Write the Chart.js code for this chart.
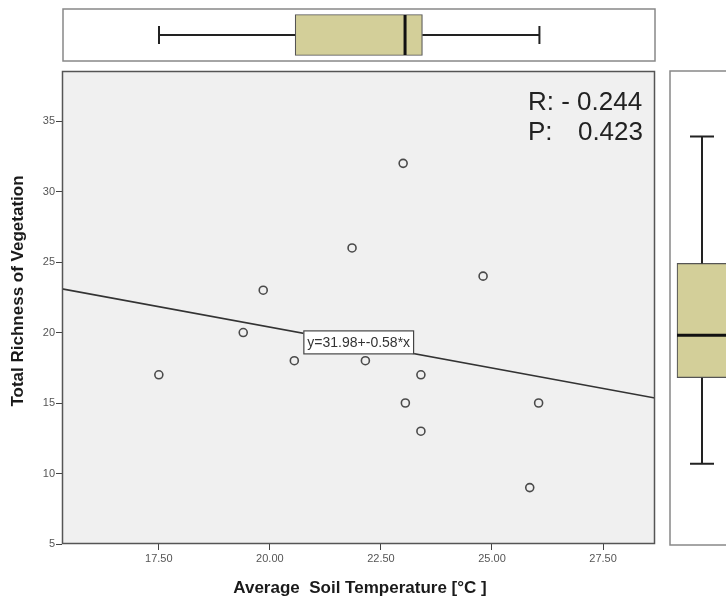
<!DOCTYPE html>
<html>
<head>
<meta charset="utf-8">
<script src="https://cdn.jsdelivr.net/npm/chart.js@4.4.0/dist/chart.umd.min.js"></script>
<style>
html, body { margin: 0; padding: 0; overflow: hidden; background: #fff; width: 726px; height: 604px; }
canvas { position: absolute; }
#main { left: 0; top: 0; }
#topBox { left: 62px; top: 8px; }
#rightBox { left: 669px; top: 70px; }
</style>
</head>
<body>
<canvas id="main" width="726" height="604"></canvas>
<canvas id="topBox" width="594" height="54"></canvas>
<canvas id="rightBox" width="66" height="476"></canvas>
<script>
// values
const soilTemp = [17.5, 19.4, 19.85, 20.55, 21.85, 22.15, 23.0, 23.05, 23.4, 23.4, 24.8, 25.85, 26.05];
const richness = [17, 20, 23, 18, 26, 18, 32, 15, 17, 13, 24, 9, 15];
const fitX = [15.32, 28.67];
const fitY = [23.1, 15.35];
const xTicks = [17.5, 20, 22.5, 25, 27.5];
const yTicks = [5, 10, 15, 20, 25, 30, 35];
// box plots: [min, q1, median, q3, max]
const tempBox = [17.5, 20.56, 23.03, 23.42, 26.05];
const richBox = [10.7, 16.8, 19.8, 24.9, 33.9];
const fitLabel = 'y=31.98+-0.58*x';
const statR = 'R: - 0.244';
const statP = '0.423';

const X_MIN = 15.32, X_MAX = 28.67, Y_MIN = 5, Y_MAX = 38.55;
const BOX_FILL = '#d3cf99';

// 1. main scatter
const mainPlugin = {
    id: 'mainDeco',
    beforeDatasetsDraw(chart) {
        const { ctx, chartArea: a } = chart;
        ctx.save();
        ctx.fillStyle = '#f0f0f0';
        ctx.fillRect(a.left, a.top, a.right - a.left, a.bottom - a.top);
        ctx.restore();
    },
    afterDatasetsDraw(chart) {
        const { ctx, chartArea: a, scales } = chart;
        ctx.save();
        // equation label
        ctx.font = '14px Arial';
        const w = ctx.measureText(fitLabel).width + 8;
        const cx = scales.x.getPixelForValue(22.0);
        const cy = scales.y.getPixelForValue(19.3);
        ctx.fillStyle = '#fff';
        ctx.fillRect(cx - w / 2, cy - 12, w, 24);
        ctx.strokeStyle = '#444';
        ctx.lineWidth = 1.2;
        ctx.strokeRect(cx - w / 2 + 0.5, cy - 11.5, w - 1, 23);
        ctx.fillStyle = '#333';
        ctx.textBaseline = 'middle';
        ctx.textAlign = 'center';
        ctx.fillText(fitLabel, cx, cy + 1);
        // frame
        ctx.strokeStyle = '#555';
        ctx.lineWidth = 1.5;
        ctx.strokeRect(a.left + 0.5, a.top + 0.5, a.right - a.left - 1, a.bottom - a.top - 1);
        // stats
        ctx.fillStyle = '#222';
        ctx.font = '26px Arial';
        ctx.textBaseline = 'alphabetic';
        ctx.textAlign = 'left';
        ctx.fillText(statR, 528, 110);
        ctx.fillText('P:', 528, 140);
        ctx.textAlign = 'right';
        ctx.fillText(statP, 643, 140);
        // axis titles
        ctx.fillStyle = '#1a1a1a';
        ctx.textAlign = 'center';
        ctx.textBaseline = 'middle';
        ctx.font = 'bold 17px Arial';
        ctx.fillText('Average  Soil Temperature [°C ]', 360, 588);
        ctx.translate(18, 291);
        ctx.rotate(-Math.PI / 2);
        ctx.font = 'bold 17px Arial';
        ctx.fillText('Total Richness of Vegetation', 0, 0);
        ctx.restore();
    }
};

new Chart(document.getElementById('main'), {
    type: 'scatter',
    data: {
        datasets: [{
            data: fitX.map((x, i) => ({ x: x, y: fitY[i] })),
            showLine: true,
            borderColor: '#333',
            borderWidth: 1.6,
            pointRadius: 0
        }, {
            data: soilTemp.map((x, i) => ({ x: x, y: richness[i] })),
            pointRadius: 4,
            pointBorderWidth: 1.6,
            pointBorderColor: '#4a4a4a',
            pointBackgroundColor: 'rgba(0,0,0,0)'
        }]
    },
    options: {
        responsive: false,
        animation: false,
        layout: { padding: { top: 71, right: 71, left: 0, bottom: 0 } },
        plugins: { legend: { display: false }, tooltip: { enabled: false } },
        scales: {
            x: {
                type: 'linear', min: X_MIN, max: X_MAX,
                afterFit(s) { s.height = 60; },
                afterBuildTicks(s) { s.ticks = xTicks.map(v => ({ value: v })); },
                ticks: { font: { size: 11, family: 'Arial' }, color: '#555', padding: 2, maxRotation: 0, autoSkip: false,
                         callback: v => Number(v).toFixed(2) },
                grid: { drawOnChartArea: false, tickLength: 6, color: '#444' },
                border: { display: false }
            },
            y: {
                type: 'linear', min: Y_MIN, max: Y_MAX,
                afterFit(s) { s.width = 62; },
                afterBuildTicks(s) { s.ticks = yTicks.map(v => ({ value: v })); },
                ticks: { font: { size: 11, family: 'Arial' }, color: '#555', padding: 1, autoSkip: false },
                grid: { drawOnChartArea: false, tickLength: 6, color: '#444' },
                border: { display: false }
            }
        }
    },
    plugins: [mainPlugin]
});

// box plot whiskers / median / frame
function boxPlugin(horizontal) {
    return {
        id: 'boxDeco',
        afterDatasetsDraw(chart) {
            const { ctx, scales } = chart;
            const b = horizontal ? tempBox : richBox;
            const val = horizontal ? scales.x : scales.y;
            const idx = horizontal ? scales.y : scales.x;
            const c = idx.getPixelForValue(0);
            const p = b.map(v => val.getPixelForValue(v));
            ctx.save();
            ctx.strokeStyle = '#222';
            ctx.lineWidth = 2;
            ctx.beginPath();
            if (horizontal) {
                ctx.moveTo(p[0], c); ctx.lineTo(p[1], c);
                ctx.moveTo(p[3], c); ctx.lineTo(p[4], c);
                ctx.moveTo(p[0], c - 9); ctx.lineTo(p[0], c + 9);
                ctx.moveTo(p[4], c - 9); ctx.lineTo(p[4], c + 9);
            } else {
                ctx.moveTo(c, p[0]); ctx.lineTo(c, p[1]);
                ctx.moveTo(c, p[3]); ctx.lineTo(c, p[4]);
                ctx.moveTo(c - 12, p[0]); ctx.lineTo(c + 12, p[0]);
                ctx.moveTo(c - 12, p[4]); ctx.lineTo(c + 12, p[4]);
            }
            ctx.stroke();
            ctx.lineWidth = 3;
            ctx.strokeStyle = '#111';
            ctx.beginPath();
            if (horizontal) {
                ctx.moveTo(p[2], c - 20); ctx.lineTo(p[2], c + 20);
            } else {
                ctx.moveTo(c - 25, p[2]); ctx.lineTo(c + 25, p[2]);
            }
            ctx.stroke();
            // panel frame
            ctx.strokeStyle = '#888';
            ctx.lineWidth = 1.5;
            const W = chart.width, H = chart.height;
            ctx.strokeRect(1, 1, W - 2, H - 2);
            ctx.restore();
        }
    };
}

new Chart(document.getElementById('topBox'), {
    type: 'bar',
    data: {
        labels: ['Soil Temperature'],
        datasets: [{
            data: [[tempBox[1], tempBox[3]]],
            backgroundColor: BOX_FILL,
            borderColor: '#555',
            borderWidth: 1.2,
            borderSkipped: false,
            barThickness: 41
        }]
    },
    options: {
        indexAxis: 'y',
        responsive: false,
        animation: false,
        layout: { padding: 0 },
        plugins: { legend: { display: false }, tooltip: { enabled: false } },
        scales: {
            x: { type: 'linear', min: X_MIN, max: X_MAX, display: false },
            y: { display: false }
        }
    },
    plugins: [boxPlugin(true)]
});

new Chart(document.getElementById('rightBox'), {
    type: 'bar',
    data: {
        labels: ['Richness'],
        datasets: [{
            data: [[richBox[1], richBox[3]]],
            backgroundColor: BOX_FILL,
            borderColor: '#555',
            borderWidth: 1.2,
            borderSkipped: false,
            barThickness: 50
        }]
    },
    options: {
        responsive: false,
        animation: false,
        layout: { padding: { top: 1, bottom: 2, left: 0, right: 0 } },
        plugins: { legend: { display: false }, tooltip: { enabled: false } },
        scales: {
            x: { display: false },
            y: { type: 'linear', min: Y_MIN, max: Y_MAX, display: false }
        }
    },
    plugins: [boxPlugin(false)]
});
</script>
</body>
</html>
